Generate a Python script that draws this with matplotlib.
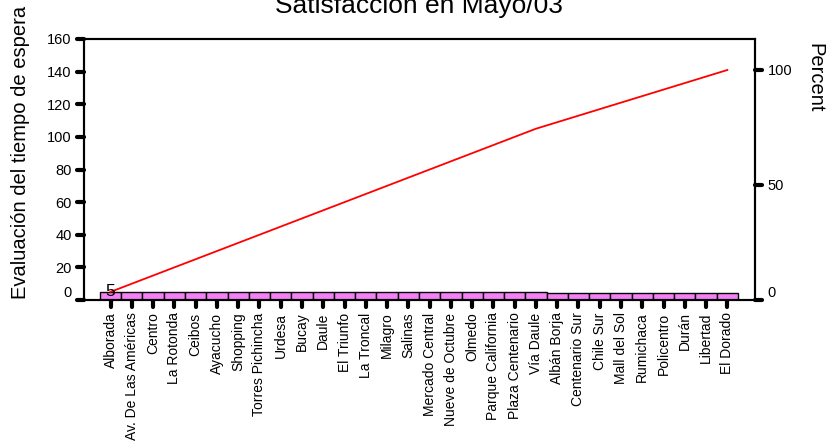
import numpy as np
import matplotlib
matplotlib.use("Agg")
import matplotlib.pyplot as plt
import matplotlib.lines as mlines
from matplotlib.markers import MarkerStyle

plt.rcParams['font.family'] = ['Liberation Sans', 'DejaVu Sans']

# Pareto data (counts per agency, already sorted)
categories = ["Alborada", "Av. De Las Américas", "Centro", "La Rotonda", "Ceibos",
              "Ayacucho", "Shopping", "Torres Pichincha", "Urdesa", "Bucay",
              "Daule", "El Triunfo", "La Troncal", "Milagro", "Salinas",
              "Mercado Central", "Nueve de Octubre", "Olmedo", "Parque California",
              "Plaza Centenario", "Vía Daule", "Albán Borja", "Centenario Sur",
              "Chile Sur", "Mall del Sol", "Rumichaca", "Policentro", "Durán",
              "Libertad", "El Dorado"]
counts = [5, 5, 5, 5, 5, 5, 5, 5, 5, 5,
          5, 5, 5, 5, 5, 5, 5, 5, 5, 5,
          5, 4, 4, 4, 4, 4, 4, 4, 4, 4]
left_ticks = [0, 20, 40, 60, 80, 100, 120, 140, 160]
right_ticks = [0, 50, 100]

title = "Satisfacción en Mayo/03"
ylabel = "Evaluación del tiempo de espera"
y2label = "Percent"

x = np.arange(len(categories))
cum = np.cumsum(counts)
total = cum[-1]

fig = plt.figure(figsize=(8.3, 4.45), dpi=100)
ax = fig.add_axes([84/830, 1 - 300/445, (755 - 84)/830, (300 - 39)/445])

ax.bar(x, counts, width=1.0, color="#f57ff5", edgecolor="black", linewidth=1.0, zorder=2)
ax.plot(x, cum, color="red", linewidth=1.3, zorder=3)
ax.text(x[0], counts[0], str(counts[0]), ha="center", va="center", fontsize=12.5, zorder=4)

ax.set_xlim(-1.25, len(categories) + 0.3)
ax.set_ylim(0, 160)
ax.set_yticks(left_ticks)
ax.set_xticks(x)
ax.set_xticklabels(categories, rotation=90, fontsize=10)

ax2 = ax.twinx()
ax2.set_ylim(0, 160 / total * 100)
ax2.set_yticks(right_ticks)

for a in (ax, ax2):
    for s in a.spines.values():
        s.set_linewidth(1.5)

ax.tick_params(axis="both", length=5, width=3, pad=4)
ax.tick_params(axis="y", labelsize=10.5)
ax2.tick_params(axis="y", length=5, width=3, labelsize=10.5, pad=4)

# round-ended ticks like the SPSS pins
for tk in ax.xaxis.get_major_ticks():
    tk.tick1line.set_marker(MarkerStyle(mlines.TICKDOWN, capstyle="round"))
for tk in ax.yaxis.get_major_ticks():
    tk.tick1line.set_marker(MarkerStyle(mlines.TICKLEFT, capstyle="round"))
for tk in ax2.yaxis.get_major_ticks():
    tk.tick2line.set_marker(MarkerStyle(mlines.TICKRIGHT, capstyle="round"))

for lbl in ax.get_yticklabels() + ax2.get_yticklabels():
    if lbl.get_text() == "0":
        lbl.set_va("bottom")

fig.text(419/830, 1 - 13/445, title, ha="center", va="baseline", fontsize=19)
fig.text(21/830, 1 - 152/445, ylabel, ha="center", va="center", rotation=90, fontsize=14.5)
fig.text(815/830, 1 - 43/445, y2label, ha="center", va="top", rotation=-90, fontsize=14.5)

fig.savefig("out.png", dpi=100)
